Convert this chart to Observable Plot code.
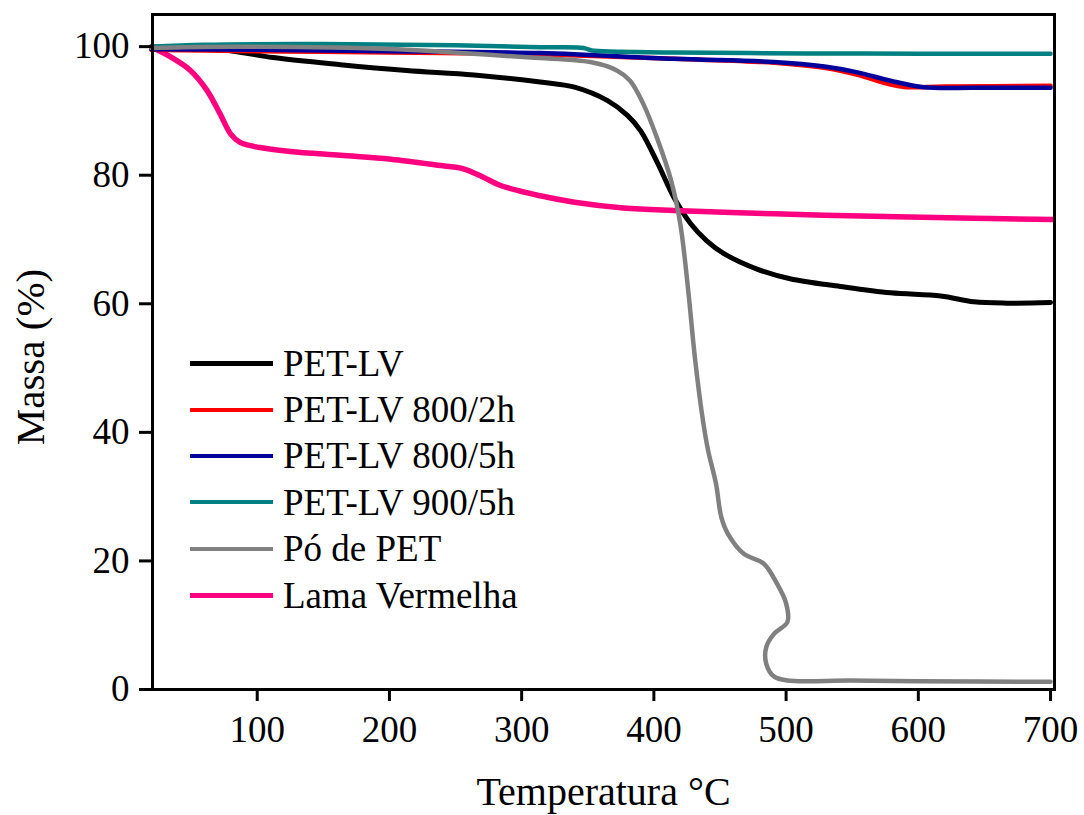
<!DOCTYPE html>
<html>
<head>
<meta charset="utf-8">
<script src="https://cdn.jsdelivr.net/npm/d3@7"></script>
<script src="https://cdn.jsdelivr.net/npm/@observablehq/plot@0.6"></script>
<style>
  body { margin: 0; background: #fff; }
  #chart { position: relative; width: 1084px; height: 815px; font-family: "Liberation Serif", "Times New Roman", serif; }
  #legend { position: absolute; left: 190px; top: 340px; }
  .row { display: flex; align-items: center; height: 46.4px; font-size: 37px; color: #000; white-space: nowrap; }
  .sw { width: 83px; height: 0; border-top-style: solid; margin-right: 10px; }
</style>
</head>
<body>
<div id="chart"><div id="legend"></div></div>
<script>
// Thermogravimetric curves: mass (%) against temperature (°C)
const seriesNames = ["PET-LV", "PET-LV 800/2h", "PET-LV 800/5h", "PET-LV 900/5h", "Pó de PET", "Lama Vermelha"];
const seriesColors = ["#000000", "#ff0000", "#00009c", "#008080", "#808080", "#ff0080"];
const seriesWidths = [5, 4.5, 4.5, 4.5, 4.5, 5.5];

const petLvTemp = [20, 40, 60, 82, 112, 163, 213, 264, 314, 340, 365, 380, 390, 403, 415, 428, 440, 453, 478, 503, 541, 579, 617, 642, 667, 700];
const petLvMass = [100, 99.8, 99.6, 99.3, 98.3, 97.2, 96.3, 95.6, 94.5, 93.7, 91.6, 89.3, 86.9, 81.8, 76.6, 72.4, 69.8, 67.8, 65.4, 63.9, 62.7, 61.7, 61.2, 60.3, 60.1, 60.2];

const pet800h2Temp = [20, 60, 100, 200, 240, 314, 415, 491, 529, 554, 579, 591, 620, 700];
const pet800h2Mass = [99.5, 99.4, 99.3, 99.1, 99.0, 98.8, 98.1, 97.5, 96.7, 95.6, 94.1, 93.7, 93.8, 93.9];

const pet800h5Temp = [20, 100, 200, 314, 415, 491, 529, 554, 579, 604, 642, 700];
const pet800h5Mass = [99.6, 99.5, 99.3, 99.0, 98.1, 97.6, 96.9, 96.0, 94.7, 93.7, 93.6, 93.6];

const pet900h5Temp = [20, 60, 150, 250, 314, 347, 350, 353, 415, 516, 600, 700];
const pet900h5Mass = [100, 100.3, 100.4, 100.2, 99.9, 99.8, 99.6, 99.4, 99.1, 98.95, 98.9, 98.9];

const poPetTemp = [20, 80, 206, 239, 307, 352, 372, 382, 392, 402, 413, 420, 426, 431, 437, 441, 447, 451, 456, 468, 483, 493, 500, 501, 491, 485, 485, 491, 501, 549, 600, 700];
const poPetMass = [99.8, 100, 99.6, 99.2, 98.3, 97.6, 96.3, 94.7, 91.1, 86.0, 79.2, 72.4, 62.0, 51.7, 42.0, 37.2, 32.0, 26.8, 24.2, 21.1, 19.6, 16.5, 13.4, 10.5, 8.7, 6.6, 4.0, 2.0, 1.4, 1.4, 1.3, 1.2];

const lamaTemp = [20.6, 37, 49.5, 62, 72, 80, 87, 102, 125, 163, 201, 239, 256, 271, 284, 314, 340, 377, 415, 491, 566, 642, 702];
const lamaMass = [99.9, 98.1, 96.3, 93.2, 89.5, 86.4, 85.1, 84.3, 83.7, 83.1, 82.5, 81.5, 81.0, 79.7, 78.4, 76.8, 75.8, 74.9, 74.5, 74.0, 73.6, 73.3, 73.1];

const xTicks = [100, 200, 300, 400, 500, 600, 700];
const yTicks = [0, 20, 40, 60, 80, 100];

const temps = [petLvTemp, pet800h2Temp, pet800h5Temp, pet900h5Temp, poPetTemp, lamaTemp];
const masses = [petLvMass, pet800h2Mass, pet800h5Mass, pet900h5Mass, poPetMass, lamaMass];

// one small table per series, kept in measurement order (the PET powder curve folds back in x)
const tables = seriesNames.map((name, i) =>
  temps[i].map((t, j) => ({series: name, temp: t, mass: masses[i][j]})));

// drawing order: black and pink below, the PET powder curve on top
const drawOrder = [0, 5, 1, 2, 3, 4];

const font = "Liberation Serif, Times New Roman, serif";

const chart = Plot.plot({
  width: 1084,
  height: 815,
  marginLeft: 152,
  marginRight: 30,
  marginTop: 14,
  marginBottom: 126,
  style: {fontFamily: font, color: "#000", background: "#fff", overflow: "visible"},
  x: {domain: [20.8, 703]},
  y: {domain: [0, 105]},
  marks: [
    ...drawOrder.map(i => Plot.line(tables[i], {
      x: "temp", y: "mass",
      stroke: seriesColors[i], strokeWidth: seriesWidths[i],
      curve: "catmull-rom", strokeLinejoin: "round", strokeLinecap: "round"
    })),
    Plot.frame({stroke: "#000", strokeWidth: 3}),
    Plot.axisX(xTicks, {
      tickSize: 12, tickPadding: 14, strokeWidth: 3, fontSize: 37,
      label: null
    }),
    Plot.axisY(yTicks, {
      tickSize: 13, tickPadding: 10, strokeWidth: 3, fontSize: 37,
      label: null
    }),
    Plot.text(["Temperatura °C"], {
      frameAnchor: "bottom", dy: 103, fontSize: 40, lineAnchor: "middle", textAnchor: "middle", fill: "#000"
    }),
    Plot.text(["Massa (%)"], {
      frameAnchor: "left", dx: -122, dy: 5, rotate: -90, fontSize: 41,
      lineAnchor: "middle", textAnchor: "middle", fill: "#000"
    })
  ]
});

const holder = document.getElementById("chart");
holder.insertBefore(chart, holder.firstChild);

// legend with line samples
const legend = d3.select("#legend");
seriesNames.forEach((name, i) => {
  const row = legend.append("div").attr("class", "row");
  row.append("div").attr("class", "sw")
    .style("border-top-color", seriesColors[i])
    .style("border-top-width", seriesWidths[i] + "px");
  row.append("span").text(name);
});
</script>
</body>
</html>
